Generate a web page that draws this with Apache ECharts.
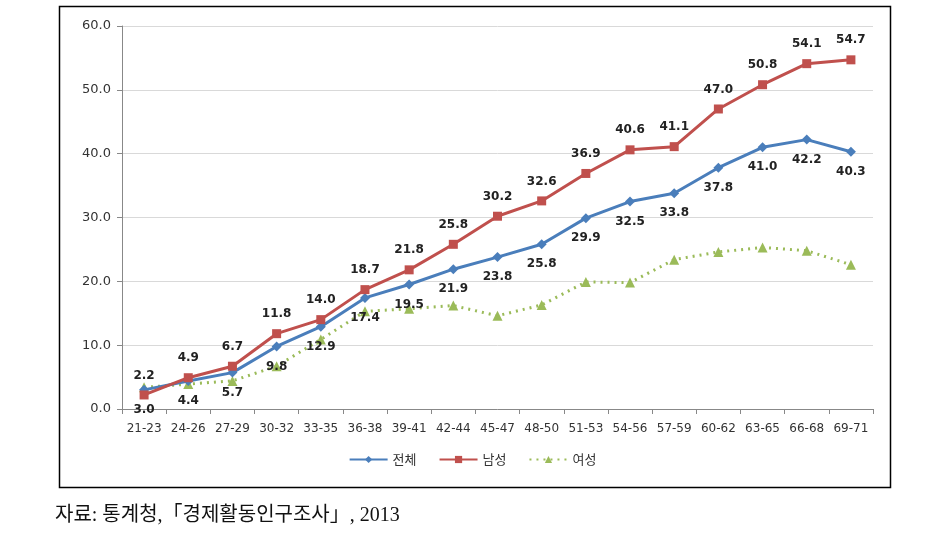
<!DOCTYPE html>
<html>
<head>
<meta charset="utf-8">
<script src="https://cdn.jsdelivr.net/npm/echarts@6/dist/echarts.min.js"></script>
<style>
  html, body { margin: 0; padding: 0; background: #fff; }
  #chart { width: 945px; height: 546px; }
</style>
</head>
<body>
<div id="chart"></div>
<script>
// 연령대
var ages = ['21-23','24-26','27-29','30-32','33-35','36-38','39-41','42-44','45-47','48-50','51-53','54-56','57-59','60-62','63-65','66-68','69-71'];
var total = [3.0, 4.4, 5.7, 9.8, 12.9, 17.4, 19.5, 21.9, 23.8, 25.8, 29.9, 32.5, 33.8, 37.8, 41.0, 42.2, 40.3];
var male = [2.2, 4.9, 6.7, 11.8, 14.0, 18.7, 21.8, 25.8, 30.2, 32.6, 36.9, 40.6, 41.1, 47.0, 50.8, 54.1, 54.7];
// 여성은 라벨이 없어서 그림에서 읽은 값
var female = [3.4, 3.9, 4.4, 6.7, 10.9, 15.3, 15.7, 16.2, 14.6, 16.3, 19.9, 19.8, 23.4, 24.6, 25.3, 24.8, 22.6];
var names = ['전체', '남성', '여성'];
var sourceText = '자료: 통계청,「경제활동인구조사」, 2013';

var chart = echarts.init(document.getElementById('chart'));

var labelStyle = {
    show: true,
    fontSize: 12,
    fontWeight: 'bold',
    color: '#222',
    fontFamily: 'DejaVu Sans',
    distance: 9,
    formatter: function (p) { return p.value.toFixed(1); }
};

var option = {
    animation: false,
    grid: { left: 122, right: 72, top: 26, bottom: 137 },
    legend: {
        bottom: 75,
        left: 'center',
        itemGap: 22,
        itemWidth: 38,
        itemHeight: 9,
        textStyle: { fontSize: 13, color: '#333', fontFamily: 'Noto Sans CJK KR' },
        data: names
    },
    xAxis: {
        type: 'category',
        data: ages,
        boundaryGap: true,
        axisLine: { lineStyle: { color: '#888' } },
        axisTick: { show: true, alignWithLabel: false, interval: 0, length: 5, lineStyle: { color: '#888' } },
        axisLabel: { interval: 0, fontSize: 12, color: '#333', margin: 14, fontFamily: 'DejaVu Sans' }
    },
    yAxis: {
        type: 'value',
        min: 0,
        max: 60,
        interval: 10,
        axisLine: { show: true, lineStyle: { color: '#888' } },
        axisTick: { show: true, inside: false, length: 5, lineStyle: { color: '#888' } },
        splitLine: { lineStyle: { color: '#d9d9d9' } },
        axisLabel: {
            fontSize: 13, color: '#333', margin: 11, fontFamily: 'DejaVu Sans',
            formatter: function (v) { return v.toFixed(1); }
        }
    },
    graphic: [
        {
            type: 'rect',
            shape: { x: 59.5, y: 6.5, width: 831, height: 481 },
            style: { fill: 'none', stroke: '#000', lineWidth: 1.5 },
            silent: true
        },
        {
            type: 'text',
            left: 55,
            top: 506,
            style: {
                text: sourceText,
                fontSize: 20,
                fill: '#111',
                fontFamily: 'Liberation Serif, Noto Sans CJK KR'
            }
        }
    ],
    series: [
        {
            name: names[0],
            type: 'line',
            data: total,
            symbol: 'diamond',
            symbolSize: 10,
            lineStyle: { color: '#4A7EBB', width: 3 },
            itemStyle: { color: '#4A7EBB' },
            label: Object.assign({}, labelStyle, { position: 'bottom' }),
            z: 3
        },
        {
            name: names[1],
            type: 'line',
            data: male,
            symbol: 'rect',
            symbolSize: 9,
            lineStyle: { color: '#C0504D', width: 3 },
            itemStyle: { color: '#C0504D' },
            label: Object.assign({}, labelStyle, { position: 'top' }),
            z: 4
        },
        {
            name: names[2],
            type: 'line',
            data: female,
            symbol: 'triangle',
            symbolSize: 10,
            lineStyle: { color: '#9BBB59', width: 3, type: [2, 5] },
            itemStyle: { color: '#9BBB59' },
            label: { show: false },
            z: 2
        }
    ]
};

chart.setOption(option);
</script>
</body>
</html>
